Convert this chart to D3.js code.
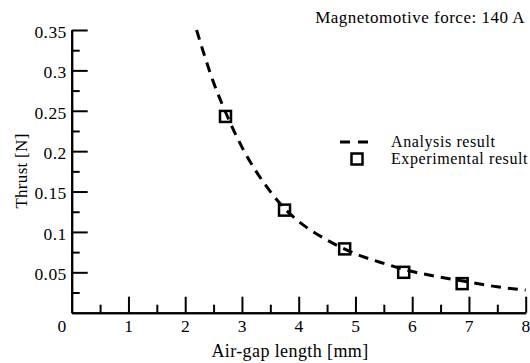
<!DOCTYPE html>
<html>
<head>
<meta charset="utf-8">
<script src="https://cdn.jsdelivr.net/npm/d3@7"></script>
<style>
  body { margin: 0; background: #fff; }
  svg { display: block; }
  svg text { font-family: 'Liberation Serif', 'Times New Roman', serif; fill: #000; }
</style>
</head>
<body>
<svg id="chart" width="530" height="363"></svg>
<script>
// analysis curve (dashed)
const analysisGap = [2.2, 2.5, 2.75, 3.0, 3.25, 3.5, 3.75, 4.0, 4.5, 5.0, 5.5, 6.0, 6.5, 7.0, 7.5, 8.0];
const analysisThrust = [0.35, 0.285, 0.242, 0.205, 0.175, 0.150, 0.129, 0.113, 0.090, 0.073, 0.061, 0.051, 0.044, 0.038, 0.032, 0.028];

// experimental points (squares)
const expGap = [2.71, 3.75, 4.81, 5.85, 6.88];
const expThrust = [0.243, 0.127, 0.079, 0.050, 0.036];

const xTicks = [0, 1, 2, 3, 4, 5, 6, 7, 8];
const xMinorTicks = [0.5, 1.5, 2.5, 3.5, 4.5, 5.5, 6.5, 7.5];
const yTicks = [0.05, 0.1, 0.15, 0.2, 0.25, 0.3, 0.35];
const yMinorTicks = [0.025, 0.075, 0.125, 0.175, 0.225, 0.275, 0.325];

const titleText = 'Magnetomotive force: 140 A';
const legendLabels = ['Analysis result', 'Experimental result'];

const svg = d3.select('#chart');

const x = d3.scaleLinear().domain([0, 8]).range([71.7, 525.7]);
const y = d3.scaleLinear().domain([0, 0.35]).range([312.7, 30]);

const styleAxis = (g) => {
  g.style('font-family', "'Liberation Serif', 'Times New Roman', serif").style('font-size', '17px');
  g.selectAll('path, line').style('stroke', '#000').style('stroke-width', '2px');
  g.selectAll('text').style('fill', '#000').style('font-size', '17.5px').style('letter-spacing', '0.4px');
};

// minor ticks first
svg.append('g')
  .attr('transform', `translate(0,${y(0)})`)
  .call(d3.axisBottom(x).tickValues(xMinorTicks).tickSize(-8).tickSizeOuter(0).tickFormat(''))
  .call(styleAxis);
svg.append('g')
  .attr('transform', `translate(${x(0)},0)`)
  .call(d3.axisLeft(y).tickValues(yMinorTicks).tickSize(-8).tickSizeOuter(0).tickFormat(''))
  .call(styleAxis);

const xAxis = svg.append('g')
  .attr('transform', `translate(0,${y(0)})`)
  .call(d3.axisBottom(x).tickValues(xTicks).tickSize(-16).tickSizeOuter(0).tickPadding(7).tickFormat(d3.format('d')))
  .call(styleAxis);
// the "0" sits left of the origin, no tick mark there
xAxis.selectAll('.tick').filter((d) => d === 0)
  .call((t) => t.select('line').remove())
  .select('text').attr('dx', -10);

svg.append('g')
  .attr('transform', `translate(${x(0)},0)`)
  .call(d3.axisLeft(y).tickValues(yTicks).tickSize(-16).tickSizeOuter(0).tickPadding(5).tickFormat((d) => String(+d.toFixed(2))))
  .call(styleAxis)
  .selectAll('text').attr('dy', '0.42em');

// axis titles
svg.append('text')
  .attr('x', 290).attr('y', 357)
  .attr('text-anchor', 'middle')
  .style('font-size', '18px')
  .style('letter-spacing', '0.4px')
  .text('Air-gap length [mm]');

svg.append('text')
  .attr('transform', 'translate(27,171) rotate(-90)')
  .attr('text-anchor', 'middle')
  .style('font-size', '17px')
  .style('letter-spacing', '0.3px')
  .text('Thrust [N]');

svg.append('text')
  .attr('x', 525).attr('y', 23)
  .attr('text-anchor', 'end')
  .style('font-size', '17px')
  .style('letter-spacing', '0.5px')
  .text(titleText);

// analysis line
const line = d3.line()
  .x((d) => x(d[0]))
  .y((d) => y(d[1]))
  .curve(d3.curveMonotoneX);

svg.append('path')
  .datum(d3.zip(analysisGap, analysisThrust))
  .attr('d', line)
  .attr('fill', 'none')
  .attr('stroke', '#000')
  .attr('stroke-width', 3)
  .attr('stroke-dasharray', '10,7');

// experimental squares
const sq = 11;
svg.append('g')
  .selectAll('rect')
  .data(d3.zip(expGap, expThrust))
  .join('rect')
  .attr('x', (d) => x(d[0]) - sq / 2)
  .attr('y', (d) => y(d[1]) - sq / 2)
  .attr('width', sq)
  .attr('height', sq)
  .attr('fill', 'none')
  .attr('stroke', '#000')
  .attr('stroke-width', 2.5);

// legend
const legend = svg.append('g');
legend.append('line')
  .attr('x1', 340).attr('x2', 368)
  .attr('y1', 142).attr('y2', 142)
  .attr('stroke', '#000').attr('stroke-width', 3)
  .attr('stroke-dasharray', '10,8');
legend.append('rect')
  .attr('x', 357 - sq / 2).attr('y', 159 - sq / 2)
  .attr('width', sq).attr('height', sq)
  .attr('fill', 'none').attr('stroke', '#000').attr('stroke-width', 2.5);
legend.selectAll('text.lab')
  .data(legendLabels)
  .join('text')
  .attr('class', 'lab')
  .attr('x', 391)
  .attr('y', (d, i) => 147 + i * 17)
  .style('font-size', '16px')
  .style('letter-spacing', '0.6px')
  .text((d) => d);
</script>
</body>
</html>
